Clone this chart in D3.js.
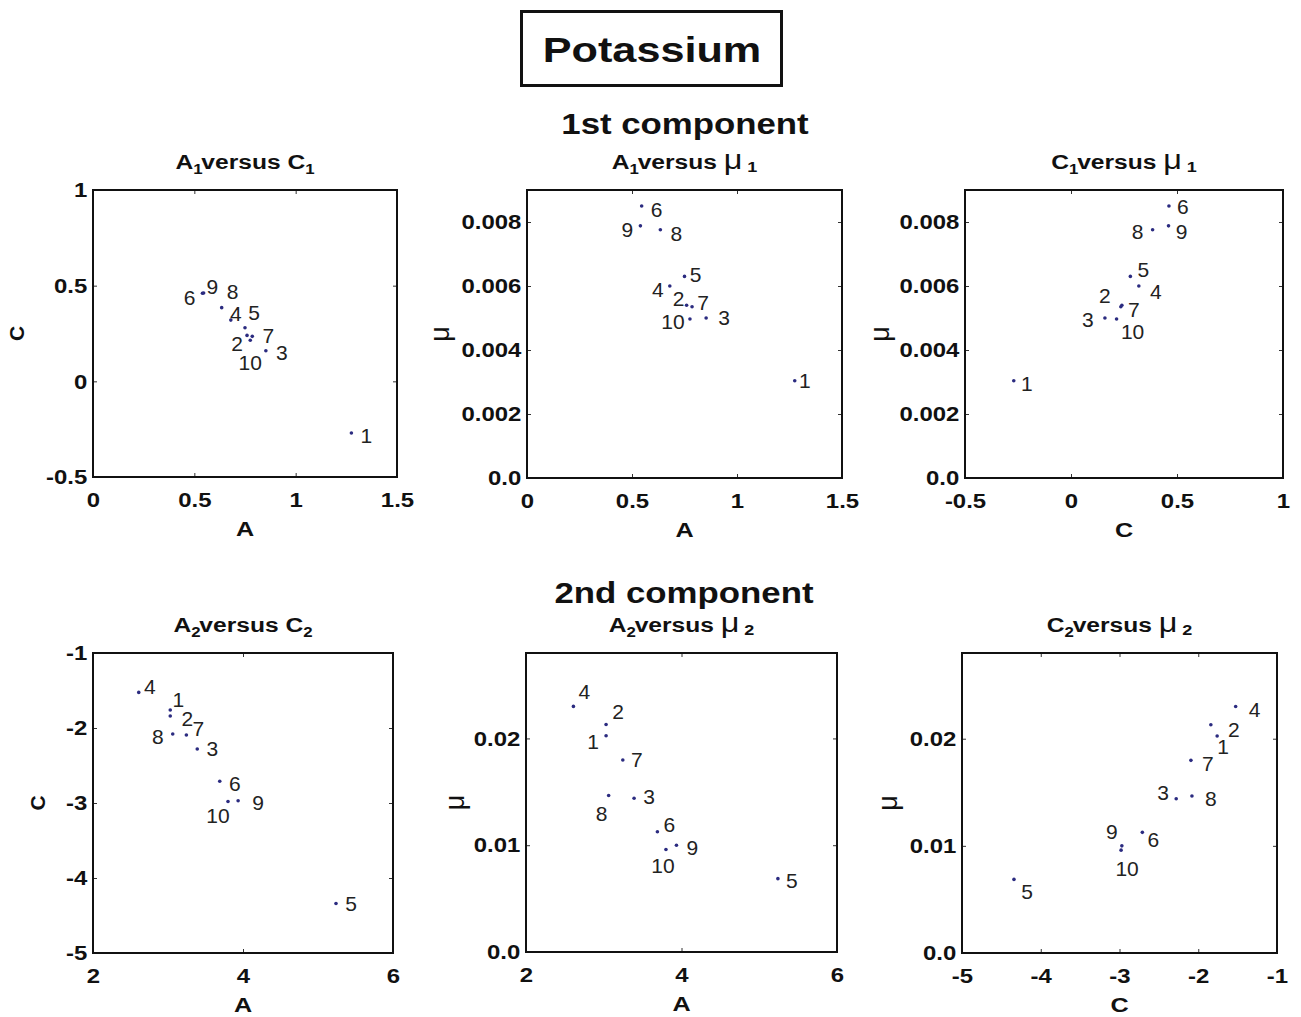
<!DOCTYPE html>
<html>
<head>
<meta charset="utf-8">
<script src="https://cdn.jsdelivr.net/npm/d3@7"></script>
<style>
body{margin:0;background:#fff;}
text{font-family:"Liberation Sans",Arial,Helvetica,sans-serif;}
</style>
</head>
<body>
<div id="chart"></div>
<script>
// sample numbers
var ids = [1,2,3,4,5,6,7,8,9,10];

// 1st component
var A1  = [1.275, 0.76, 0.853, 0.68, 0.75, 0.546, 0.786, 0.635, 0.54, 0.776];
var C1  = [-0.27, 0.24, 0.16, 0.32, 0.28, 0.462, 0.235, 0.385, 0.46, 0.215];
var mu1 = [0.00304, 0.0054, 0.0050, 0.0060, 0.0063, 0.0085, 0.00535, 0.00776, 0.00788, 0.00497];

// 2nd component
var A2  = [3.03, 3.03, 3.39, 2.61, 5.24, 3.69, 3.245, 3.063, 3.935, 3.80];
var C2  = [-1.76, -1.84, -2.28, -1.525, -4.34, -2.71, -2.093, -2.08, -2.97, -2.98];
var mu2 = [0.02025, 0.0213, 0.0144, 0.0230, 0.00687, 0.01126, 0.01798, 0.01466, 0.0100, 0.0096];

// tick labels
var ticksA1  = [0, 0.5, 1, 1.5];
var ticksC1  = [-0.5, 0, 0.5, 1];
var ticksMu1 = [0, 0.002, 0.004, 0.006, 0.008];
var ticksA2  = [2, 4, 6];
var ticksC2  = [-5, -4, -3, -2, -1];
var ticksMu2 = [0, 0.01, 0.02];

var SX = 1.2;   // headings are drawn a bit wide
var SXT = 1.14; // tick labels
var FONT = '"Liberation Sans",Arial,Helvetica,sans-serif';

var svg = d3.select("#chart").append("svg")
    .attr("width", 1301)
    .attr("height", 1017)
    .style("display","block");

// label offsets (px) for the point numbers, one list per panel
var off1 = [[15,3],[-10,8],[16,2],[5,-6],[9,-15],[-14,5],[16,-1],[11,-16],[10,-7],[0,22]];
var off2 = [[10,0],[-8,-7],[18,0],[-12,4],[11,-2],[15,4],[11,-4],[16,4],[-13,4],[-17,3]];
var off3 = [[13,3],[-17,-10],[-17,2],[17,6],[13,-7],[14,1],[13,3],[-15,2],[13,6],[16,13]];
var off4 = [[8,-10],[17,3],[15,0],[11,-6],[15,0],[15,2],[12,-6],[-15,3],[20,2],[-10,14]];
var off5 = [[-13,6],[12,-13],[15,-2],[11,-15],[14,2],[12,-7],[14,0],[-7,18],[16,2],[-3,16]];
var off6 = [[6,11],[23,5],[-13,-6],[19,3],[13,12],[11,7],[17,3],[19,3],[-10,-14],[6,19]];

var panels = [
  {xr:[93,397],  yr:[190,477], xd:[0,1.5],  yd:[-0.5,1],  xv:A1, yv:C1,  xt:ticksA1, yt:ticksC1,
   a:"A", b:"C", sub:"1", xl:"A", yl:"C", ylx:17,  off:off1},
  {xr:[527,842], yr:[190,478], xd:[0,1.5],  yd:[0,0.009], xv:A1, yv:mu1, xt:ticksA1, yt:ticksMu1,
   a:"A", b:"μ", sub:"1", xl:"A", yl:"μ", ylx:440, off:off2, zero:"0.0"},
  {xr:[965,1283],yr:[190,478], xd:[-0.5,1], yd:[0,0.009], xv:C1, yv:mu1, xt:ticksC1, yt:ticksMu1,
   a:"C", b:"μ", sub:"1", xl:"C", yl:"μ", ylx:880, off:off3, zero:"0.0"},
  {xr:[93,393],  yr:[653,953], xd:[2,6],    yd:[-5,-1],   xv:A2, yv:C2,  xt:ticksA2, yt:ticksC2,
   a:"A", b:"C", sub:"2", xl:"A", yl:"C", ylx:38,  off:off4},
  {xr:[526,837], yr:[653,952], xd:[2,6],    yd:[0,0.028], xv:A2, yv:mu2, xt:ticksA2, yt:ticksMu2,
   a:"A", b:"μ", sub:"2", xl:"A", yl:"μ", ylx:455, off:off5, zero:"0.0"},
  {xr:[962,1277],yr:[653,953], xd:[-5,-1],  yd:[0,0.028], xv:C2, yv:mu2, xt:ticksC2, yt:ticksMu2,
   a:"C", b:"μ", sub:"2", xl:"C", yl:"μ", ylx:888, off:off6, zero:"0.0"}
];

function styleAxis(sel){
  sel.select(".domain").remove();
  sel.attr("font-family", FONT).attr("font-size", 21).attr("font-weight","bold").attr("color","#333");
  sel.selectAll("text").attr("fill","#111").attr("transform","scale("+SXT+",1)");
}

function title(cx, y, p){
  var t = svg.append("text")
      .attr("transform","translate("+cx+","+y+") scale("+SX+",1)")
      .attr("text-anchor","middle")
      .attr("font-weight","bold")
      .attr("font-size",20.5)
      .attr("fill","#111");
  t.append("tspan").text(p.a);
  t.append("tspan").attr("font-size",14).attr("dy",5).text(p.sub);
  t.append("tspan").attr("dy",-5).attr("dx",-1).text("versus ");
  if(p.b=="μ"){
    t.append("tspan").attr("font-weight","normal").attr("font-size",27).text("μ");
    t.append("tspan").attr("font-size",15).attr("dx",4).attr("dy",3).text(p.sub);
  }else{
    t.append("tspan").text(p.b);
    t.append("tspan").attr("font-size",14).attr("dy",5).text(p.sub);
  }
}

panels.forEach(function(p){
  var x = d3.scaleLinear().domain(p.xd).range(p.xr);
  var y = d3.scaleLinear().domain(p.yd).range([p.yr[1], p.yr[0]]);
  var fmt = function(d){ return (d===0 && p.zero) ? p.zero : String(d); };
  var g = svg.append("g");

  g.append("g").attr("transform","translate(0,"+p.yr[1]+")")
    .call(d3.axisBottom(x).tickValues(p.xt).tickSizeInner(-4).tickSizeOuter(0).tickPadding(15).tickFormat(String))
    .call(styleAxis);
  g.append("g").attr("transform","translate("+p.xr[0]+",0)")
    .call(d3.axisLeft(y).tickValues(p.yt).tickSizeInner(-4).tickSizeOuter(0).tickPadding(5).tickFormat(fmt))
    .call(styleAxis);
  g.append("g").attr("transform","translate(0,"+p.yr[0]+")")
    .call(d3.axisTop(x).tickValues(p.xt).tickSizeInner(-4).tickSizeOuter(0).tickFormat(""))
    .call(styleAxis);
  g.append("g").attr("transform","translate("+p.xr[1]+",0)")
    .call(d3.axisRight(y).tickValues(p.yt).tickSizeInner(-4).tickSizeOuter(0).tickFormat(""))
    .call(styleAxis);

  g.append("rect")
    .attr("x",p.xr[0]).attr("y",p.yr[0])
    .attr("width",p.xr[1]-p.xr[0]).attr("height",p.yr[1]-p.yr[0])
    .attr("fill","none").attr("stroke","#111").attr("stroke-width",2);

  g.selectAll("circle.pt").data(ids).enter().append("circle")
    .attr("class","pt")
    .attr("cx",function(d,i){ return x(p.xv[i]); })
    .attr("cy",function(d,i){ return y(p.yv[i]); })
    .attr("r",1.8)
    .attr("fill","#2b2b80");

  g.selectAll("text.lab").data(ids).enter().append("text")
    .attr("class","lab")
    .attr("x",function(d,i){ return x(p.xv[i])+p.off[i][0]; })
    .attr("y",function(d,i){ return y(p.yv[i])+p.off[i][1]; })
    .attr("dy","0.35em")
    .attr("text-anchor","middle")
    .attr("font-size",21)
    .attr("fill","#222")
    .text(function(d){ return d; });

  var cx = (p.xr[0]+p.xr[1])/2;
  title(cx, p.yr[0]-21.5, p);

  svg.append("text")
    .attr("transform","translate("+cx+","+(p.yr[1]+59)+") scale("+SX+",1)")
    .attr("text-anchor","middle")
    .attr("font-weight","bold")
    .attr("font-size",21)
    .attr("fill","#111")
    .text(p.xl);

  var cy = (p.yr[0]+p.yr[1])/2;
  svg.append("text")
    .attr("transform","translate("+p.ylx+","+cy+") rotate(-90)")
    .attr("text-anchor","middle")
    .attr("dy","0.35em")
    .attr("font-weight", p.yl=="μ" ? "normal" : "bold")
    .attr("font-size", p.yl=="μ" ? 27 : 21)
    .attr("fill","#111")
    .text(p.yl);
});

// headings
svg.append("rect")
  .attr("x",521.5).attr("y",11.5).attr("width",260).attr("height",74)
  .attr("fill","none").attr("stroke","#111").attr("stroke-width",3);
svg.append("text")
  .attr("transform","translate(652,62) scale("+SX+",1)")
  .attr("text-anchor","middle").attr("font-weight","bold").attr("font-size",36).attr("fill","#111")
  .text("Potassium");
svg.append("text")
  .attr("transform","translate(685,134) scale("+SX+",1)")
  .attr("text-anchor","middle").attr("font-weight","bold").attr("font-size",29).attr("fill","#111")
  .text("1st component");
svg.append("text")
  .attr("transform","translate(684,603) scale("+SX+",1)")
  .attr("text-anchor","middle").attr("font-weight","bold").attr("font-size",29).attr("fill","#111")
  .text("2nd component");
</script>
</body>
</html>
